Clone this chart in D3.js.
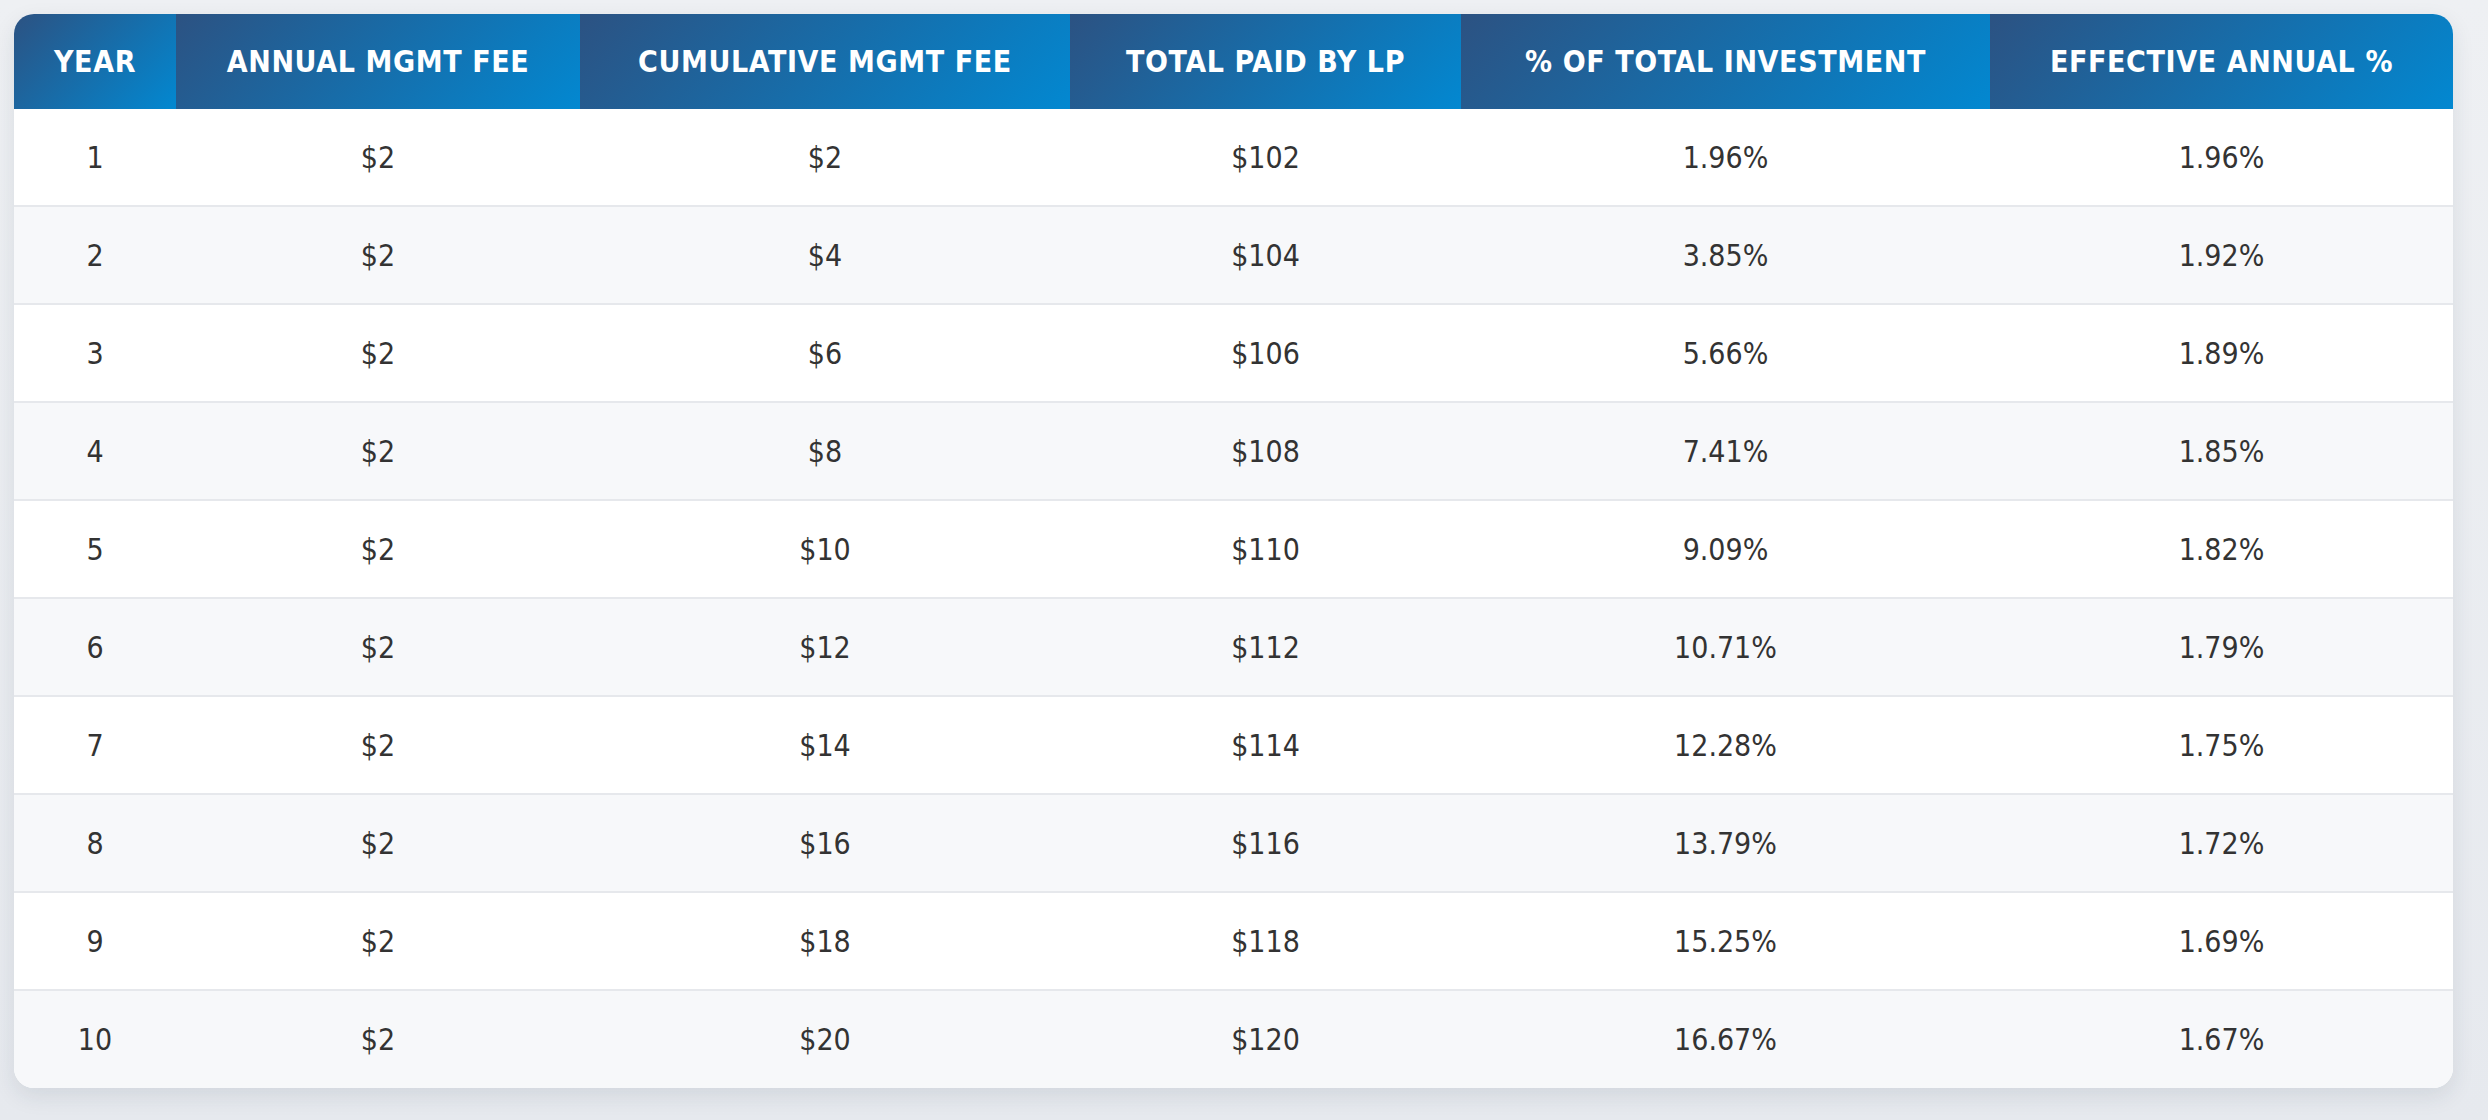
<!DOCTYPE html>
<html>
<head>
<meta charset="utf-8">
<script src="https://cdn.jsdelivr.net/npm/d3@7"></script>
<style>
  html, body { margin: 0; padding: 0; }
  body {
    width: 2488px; height: 1120px; overflow: hidden;
    background: linear-gradient(180deg, #eef0f3 0%, #e6e9ee 100%);
    font-family: "DejaVu Sans Condensed", "DejaVu Sans", sans-serif;
  }
  .card {
    position: absolute; left: 14px; top: 14px; width: 2439px;
    border-radius: 20px; overflow: hidden; background: #fff;
    box-shadow: 0 8px 22px rgba(30, 45, 70, 0.10);
  }
  table { border-collapse: collapse; table-layout: fixed; width: 100%; }
  th {
    height: 95px; padding: 0; box-sizing: border-box;
    background: linear-gradient(135deg, #2c5282 0%, #0288d1 100%);
    color: #fff; font-weight: bold; font-size: 30px; letter-spacing: 0.6px;
    text-transform: uppercase; text-align: center;
  }
  td {
    height: 96px; padding: 0; text-align: center;
    font-size: 30px; color: #333;
    border-bottom: 2px solid #e6e8ec;
  }
  tbody tr:nth-child(even) td { background: #f7f8fa; }
  tbody tr:last-child td { border-bottom: none; height: 96.5px; }
</style>
</head>
<body>
<div class="card"></div>
<script>
const headers = ["Year", "Annual Mgmt Fee", "Cumulative Mgmt Fee", "Total Paid by LP", "% of Total Investment", "Effective Annual %"];
const colWidths = [162, 404, 490, 391, 529, 463];

const years = [1, 2, 3, 4, 5, 6, 7, 8, 9, 10];
const annualFee = [2, 2, 2, 2, 2, 2, 2, 2, 2, 2];
const cumulativeFee = [2, 4, 6, 8, 10, 12, 14, 16, 18, 20];
const totalPaid = [102, 104, 106, 108, 110, 112, 114, 116, 118, 120];
const pctOfTotal = [1.96, 3.85, 5.66, 7.41, 9.09, 10.71, 12.28, 13.79, 15.25, 16.67];
const effectiveAnnual = [1.96, 1.92, 1.89, 1.85, 1.82, 1.79, 1.75, 1.72, 1.69, 1.67];

const dollar = v => "$" + d3.format("d")(v);
const pct = v => d3.format(".2f")(v) + "%";

// one row per year, each cell already formatted
const rows = years.map((y, i) => [
  String(y),
  dollar(annualFee[i]),
  dollar(cumulativeFee[i]),
  dollar(totalPaid[i]),
  pct(pctOfTotal[i]),
  pct(effectiveAnnual[i])
]);

const table = d3.select(".card").append("table");

table.append("colgroup").selectAll("col")
  .data(colWidths).enter().append("col")
  .style("width", d => d + "px");

table.append("thead").append("tr")
  .selectAll("th")
  .data(headers).enter().append("th")
  .text(d => d);

table.append("tbody")
  .selectAll("tr")
  .data(rows).enter().append("tr")
  .selectAll("td")
  .data(d => d).enter().append("td")
  .text(d => d);
</script>
</body>
</html>
